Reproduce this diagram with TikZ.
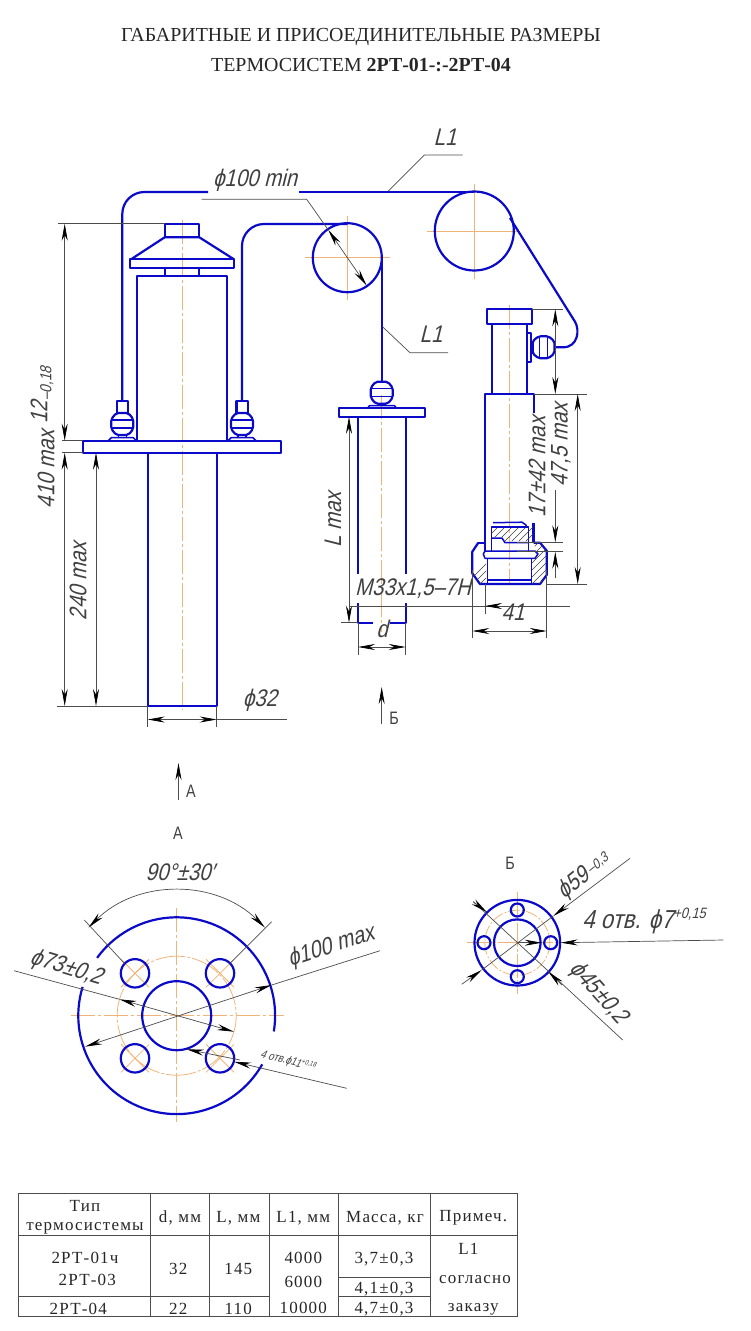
\documentclass[tikz,border=0pt]{standalone}
\usepackage{fontspec}
\usetikzlibrary{arrows.meta}
\setmainfont{Liberation Serif}
\newfontfamily\draftfont[FakeSlant=0.25,FakeStretch=0.85]{Liberation Sans}
\newfontfamily\viewfont[FakeStretch=0.8]{Liberation Sans}
\newfontfamily\tablefont[LetterSpace=7]{Liberation Serif}
\definecolor{partblue}{RGB}{10,10,200}
\definecolor{axisorange}{RGB}{240,180,120}
\tikzset{
  part/.style={draw=partblue,line width=2.2pt,line join=round},
  partfine/.style={draw=partblue,line width=1.5pt,line join=round},
  axisline/.style={draw=axisorange,line width=.8pt},
  axisdash/.style={axisline,dash pattern=on 24pt off 3pt on 3pt off 3pt},
  dimline/.style={draw=black!70,line width=.7pt,>={Stealth[length=17pt,width=6pt,color=black]}},
  hatchline/.style={draw=black!75,line width=.5pt},
  dimlabel/.style={font=\fontsize{24}{24}\selectfont\draftfont,inner sep=0pt,text=black!75},
  viewlabel/.style={font=\fontsize{18}{18}\selectfont\viewfont,inner sep=0pt,text=black!75},
  cell/.style={font=\fontsize{17}{17}\selectfont\tablefont,inner sep=0pt,text=black!85},
  ballfit/.pic={
    \draw[part,rounded corners=2pt] (-6,-11) -- (6,-11) -- (11,-5) -- (11,5) -- (6,11) -- (-6,11) -- (-11,5) -- (-11,-5) -- cycle;
    \draw[partfine] (-10.5,-4) -- (10.5,-4) (-10.5,4) -- (10.5,4);
  },
  stemfit/.pic={
    \draw[part] (-5.6,-10.7) -- (-5.6,-23.3) -- (5.6,-23.3) -- (5.6,-10.7);
    \pic {ballfit};
    \draw[partfine] (-4,11) -- (-4,14) (4,11) -- (4,14);
    \draw[partfine] (-14,16.7) -- (-11,13.7) -- (11,13.7) -- (14,16.7);
  }
}
\begin{document}
\begin{tikzpicture}[x=1pt,y=-1pt]
  \useasboundingbox (0,0) rectangle (750,1331);

  \node[font=\fontsize{19.9}{20}\selectfont,text=black!85] (title1) at (361,37) {ГАБАРИТНЫЕ И ПРИСОЕДИНИТЕЛЬНЫЕ РАЗМЕРЫ};
  \node[font=\fontsize{19.9}{20}\selectfont,text=black!85] (title2) at (361,65) {ТЕРМОСИСТЕМ \textbf{2РТ-01-:-2РТ-04}};

  % axes
  \draw[axisdash] (182,220) -- (182,710);
  \draw[axisdash] (381.7,395) -- (381.7,632);
  \draw[axisdash] (509.5,305) -- (509.5,585);
  \draw[axisline] (305,257.7) -- (390,257.7) (347.3,216) -- (347.3,300);
  \draw[axisline] (427.3,231) -- (520,231) (474.3,184) -- (474.3,279.3);

  % left unit
  \draw[part] (83.3,440.7) rectangle (280.7,452.7);
  \draw[part] (147.7,452.7) -- (147.7,706) -- (216.7,706) -- (216.7,452.7);
  \draw[part] (137.3,440.7) -- (137.3,276) -- (227.3,276) -- (227.3,440.7);
  \draw[part] (164.7,276) -- (164.7,268.3) (199.3,276) -- (199.3,268.3);
  \draw[part] (130,259.3) rectangle (234,268.3);
  \draw[part] (131,259.3) -- (164.7,237.3) -- (199.3,237.3) -- (234,259.3);
  \draw[part] (164.7,237.3) rectangle (199.3,223.7);
  \pic at (122.3,424) {stemfit};
  \pic at (242,424) {stemfit};

  % cables and drums
  \draw[part,rounded corners=22pt] (122.3,400.7) -- (122.3,192) -- (208,192);
  \draw[part] (299,192) -- (474.3,192);
  \draw[part,rounded corners=22pt] (242,400.7) -- (242,224) -- (347.3,224);
  \draw[part] (347.3,257.7) circle[radius=34.5];
  \draw[part] (474.3,231) circle[radius=39.5];
  \draw[part] (381.8,258) -- (381.8,381.7);
  \draw[part] (510,218) -- (575,321.7) .. controls (580,330) and (578,347.3) .. (563,347.3) -- (555,347.3);

  % middle unit
  \draw[part] (339,408.3) rectangle (425,416.7);
  \draw[part] (358,416.7) -- (358,574) (405.7,416.7) -- (405.7,574);
  \draw[part] (373,622.7) -- (358,622.7) -- (358,602.7) (390,622.7) -- (405.7,622.7) -- (405.7,602.7);
  \pic at (381.7,392.7) {ballfit};
  \draw[partfine] (367.3,408.3) -- (369.5,405.7) -- (394.5,405.7) -- (396.7,408.3);

  % right unit
  \draw[part] (487.3,309.3) rectangle (531.7,324.3);
  \draw[part] (491.7,324.3) -- (491.7,394) (527.3,324.3) -- (527.3,394);
  \draw[part] (527.3,333.3) rectangle (531,361.7);
  \draw[partfine] (531,341.7) rectangle (533,353.3);
  \pic[rotate=90] at (543.5,347.3) {ballfit};
  \draw[part] (485,552) -- (485,394) -- (534,394) -- (534,413.3);
  \draw[part] (533.5,523) -- (533.5,543);
  \draw[part] (478.3,542.7) -- (472.3,551.7) -- (472.3,573.3) -- (480,584) -- (540,584) -- (546.7,575) -- (546.7,550.7) -- (540,542.7) -- (533.5,542.7);
  \draw[part] (478.3,542.7) -- (485,542.7);
  \draw[partfine] (491.7,551) -- (491.7,527) -- (528.3,527) -- (528.3,551);
  \draw[partfine] (493,522.7) -- (522,522.2) -- (526,525) -- (526,527);
  \draw[partfine] (485,551) -- (535,551) -- (538,554) -- (535,558.3) -- (485,558.3) -- (483.3,554) -- cycle;
  \draw[partfine] (487.3,558.3) -- (487.3,584) (531.7,558.3) -- (531.7,584);
  \draw[partfine] (487.3,580) -- (531.7,580);
  \draw[partfine] (491.7,538) -- (502,538) -- (505,542.7) -- (528.3,542.7);

  \begin{scope}
    \clip (491.7,528) -- (528.3,528) -- (528.3,541) -- (505,541) -- (502,537) -- (491.7,537) -- cycle;
    \foreach \hx in {480,487,...,550} \draw[hatchline] (\hx,545) -- (\hx+20,525);
  \end{scope}
  \begin{scope}
    \clip (478.3,542.7) -- (472.3,551.7) -- (472.3,573.3) -- (480,584) -- (486,584) -- (486,558) -- (484,551) -- (485,522) -- (491,522) -- (491,542.7) -- cycle;
    \foreach \hx in {450,457,...,520} \draw[hatchline] (\hx,600) -- (\hx+80,520);
  \end{scope}
  \begin{scope}
    \clip (540,542.7) -- (546.7,550.7) -- (546.7,575) -- (540,584) -- (532,584) -- (532,558) -- (537,551) -- (533,542.7) -- (528.5,542.7) -- (528.5,522) -- (533,522) -- (533,542.7) -- cycle;
    \foreach \hx in {460,467,...,550} \draw[hatchline] (\hx,600) -- (\hx+80,520);
  \end{scope}

  % dimensions, left unit
  \draw[dimline] (58,223.7) -- (165,223.7);
  \draw[dimline] (62,440.7) -- (83.3,440.7) (62,452.7) -- (83.3,452.7);
  \draw[dimline] (57,706) -- (147.7,706);
  \draw[dimline,->] (64.7,300) -- (64.7,223.7);
  \draw[dimline,->] (64.7,300) -- (64.7,440.7);
  \draw[dimline,->] (64.7,500) -- (64.7,452.7);
  \draw[dimline,->] (64.7,500) -- (64.7,706);
  \draw[dimline,<->] (96,452.7) -- (96,706);
  \draw[dimline] (147.7,706) -- (147.7,727) (216.7,706) -- (216.7,727);
  \draw[dimline,<->] (147.7,719.5) -- (216.7,719.5);
  \draw[dimline] (216.7,719.5) -- (287,719.5);
  \node[dimlabel,rotate=90] (lbl410) at (46,469) {410 max};
  \node[dimlabel,rotate=90] (lbl12) at (42,395) {12\raisebox{-4pt}{\fontsize{16}{16}\selectfont –0,18}};
  \node[dimlabel,rotate=90] (lbl240) at (78,581) {240 max};
  \node[dimlabel] (lblphi32) at (260,700) {ϕ32};
  \draw[dimline] (201.7,199.3) -- (306.7,199.3) -- (328.3,230);
  \draw[dimline,<->] (328.3,230) -- (366.7,285.7);
  \node[dimlabel] (lblphi100) at (255,180) {ϕ100 min};
  \node[dimlabel] (lblcableA) at (445,137) {L1};
  \draw[dimline] (388.3,191) -- (424.3,155) -- (462.7,155);
  \node[dimlabel] (lblcableB) at (431,334) {L1};
  \draw[dimline] (382.5,326.7) -- (410,352.7) -- (448,352.7);

  % dimensions, middle unit
  \draw[dimline] (341,622.7) -- (358,622.7);
  \draw[dimline,<->] (349,416.7) -- (349,622.7);
  \node[dimlabel,rotate=90] (lblL) at (333,520) {L max};
  \draw[dimline] (358,622.7) -- (358,655) (405.7,622.7) -- (405.7,655);
  \draw[dimline,<->] (358,647) -- (405.7,647);
  \node[dimlabel] (lbld) at (382,629) {d};
  \node[dimlabel] (lblM33) at (413,589) {M33x1,5–7H};

  % dimensions, right unit
  \draw[dimline] (349,606) -- (570,606);
  \draw[dimline] (485,584) -- (485,614);
  \draw[dimline,->] (505,606) -- (485,606);
  \node[dimlabel] (lbl41) at (513,612) {41};
  \draw[dimline] (472.3,570) -- (472.3,638) (546.7,570) -- (546.7,638);
  \draw[dimline,<->] (472.3,631) -- (546.7,631);
  \draw[dimline] (531.7,309.3) -- (563,309.3);
  \draw[dimline] (534,394) -- (587,394) (546.7,584) -- (587,584);
  \draw[dimline] (517,542.3) -- (563,542.3) (517,551.7) -- (563,551.7);
  \draw[dimline,<->] (555.3,309.3) -- (555.3,394);
  \draw[dimline,->] (555.3,490) -- (555.3,542.3);
  \draw[dimline,->] (555.3,578) -- (555.3,551.7);
  \draw[dimline,<->] (577.7,394) -- (577.7,584);
  \node[dimlabel,rotate=90] (lbl17) at (537,467) {17±42 max};
  \node[dimlabel,rotate=90] (lbl47) at (561,445) {47,5 max};

  % view arrows
  \draw[dimline,->] (178.5,800) -- (178.5,763);
  \node[viewlabel] (lblarrA) at (191,791) {А};
  \draw[dimline,->] (381.7,724) -- (381.7,687);
  \node[viewlabel] (lblarrB) at (394,718) {Б};

  % view A
  \node[viewlabel] (lblviewA) at (178,833) {А};
  \draw[axisdash] (70.7,1015.7) -- (284,1015.7);
  \draw[axisdash] (176.7,908) -- (176.7,1121.7);
  \draw[axisline,dash pattern=on 30pt off 2pt on 3pt off 2pt] (176.7,1015.7) circle[radius=59.5];
  \draw[part] (176.7,1015.7) ++(9.2:98.4) arc[start angle=9.2,end angle=-144,radius=98.4];
  \draw[part] (176.7,1015.7) ++(-163:98.4) arc[start angle=-163,end angle=-330.4,radius=98.4];
  \draw[part] (176.7,1015.7) circle[radius=34.5];
  \foreach \hx/\hy in {135/973.3,220/973.3,135/1058.3,220/1058.3}{
    \draw[axisline] (\hx-14,\hy-14) -- (\hx+14,\hy+14) (\hx-14,\hy+14) -- (\hx+14,\hy-14);
    \draw[part] (\hx,\hy) circle[radius=14.2];
  }
  \draw[dimline,<->] (176.7,1015.7) ++(-135:124.7) arc[start angle=-135,end angle=-45,radius=124.7];
  \draw[dimline] (84.3,920) -- (125,964) (271.7,921.7) -- (230,963.3);
  \node[dimlabel] (lbl90) at (180,872) {90°±30′};
  \draw[dimline] (380,950.7) -- (271.7,985);
  \draw[dimline,<->] (271.7,985) -- (85,1046.7);
  \node[dimlabel,rotate=18] (lblphi100max) at (331,947) {ϕ100 max};
  \draw[dimline] (14,970.7) -- (119.5,999.3);
  \draw[dimline,<->] (119.5,999.3) -- (234,1031.7);
  \node[dimlabel,rotate=-17] (lblphi73) at (66,968) {ϕ73±0,2};
  \draw[dimline,->] (240,1060) -- (186.7,1049.3);
  \draw[dimline,->] (346.7,1088.3) -- (234,1061.7);
  \node[dimlabel,rotate=-14,font=\fontsize{11.5}{11}\selectfont\draftfont] (lblholesA) at (288,1061) {4 отв.ϕ11\raisebox{4pt}{\fontsize{7}{7}\selectfont +0,18}};

  % view B
  \node[viewlabel] (lblviewB) at (510,863) {Б};
  \draw[axisline,dash pattern=on 24pt off 2pt on 3pt off 2pt] (467.3,942.7) -- (568.3,942.7);
  \draw[axisline,dash pattern=on 24pt off 2pt on 3pt off 2pt] (517.3,891.7) -- (517.3,994);
  \draw[axisline,dash pattern=on 12pt off 2pt on 2pt off 2pt] (517.3,942.7) circle[radius=32.5];
  \draw[part] (517.3,942.7) circle[radius=42.8];
  \draw[part] (517.3,942.7) circle[radius=23.3];
  \foreach \hx/\hy in {517.3/910,484/942.7,550.7/942.7,517.3/976.7}
    \draw[part] (\hx,\hy) circle[radius=6.5];
  \draw[dimline,->] (630,858.3) -- (553.3,916);
  \draw[dimline,->] (461.7,984.3) -- (481.7,970);
  \draw[dimline] (481.7,970) -- (553.3,916);
  \node[dimlabel,rotate=39] (lblphi59) at (584,876) {ϕ59\raisebox{3pt}{\fontsize{14}{14}\selectfont\,–0,3}};
  \draw[dimline,->] (723.3,940) -- (560.7,942.7);
  \draw[dimline,->] (517.3,942.7) -- (541.7,942.7);
  \node[dimlabel,font=\fontsize{26}{26}\selectfont\draftfont] (lblholesB) at (644,921) {4 отв. ϕ7\raisebox{10pt}{\fontsize{15}{15}\selectfont +0,15}};
  \draw[dimline] (473.3,901.7) -- (622.7,1040);
  \draw[dimline,->] (473.3,901.7) -- (487,912.3);
  \draw[dimline,->] (562,985) -- (548.3,971.7);
  \node[dimlabel,rotate=-48] (lblphi45) at (598,993) {ϕ45±0,2};

  % table
  \draw[black!70,line width=.8pt] (18.3,1193.3) rectangle (517.7,1316);
  \draw[black!70,line width=.8pt] (18.3,1235) -- (517.7,1235)
    (18.3,1296.7) -- (269.3,1296.7) (338.7,1296.7) -- (430.7,1296.7) (338.7,1277.7) -- (430.7,1277.7)
    (150.3,1193.3) -- (150.3,1316) (209,1193.3) -- (209,1316) (269.3,1193.3) -- (269.3,1316)
    (338.7,1193.3) -- (338.7,1316) (430.7,1193.3) -- (430.7,1316);
  \node[cell] (c11) at (85,1205.5) {Тип};
  \node[cell] (c12) at (85,1228.5) {термосистемы};
  \node[cell] (c13) at (180,1218) {d, мм};
  \node[cell] (c14) at (238.3,1218) {L, мм};
  \node[cell] (c15) at (303.3,1218) {L1, мм};
  \node[cell] (c16) at (385,1218) {Масса, кг};
  \node[cell] (c17) at (473.3,1218) {Примеч.};
  \node[cell] (c21) at (85,1258) {2РТ-01ч};
  \node[cell] (c22) at (87.3,1279.5) {2РТ-03};
  \node[cell] (c23) at (178.3,1269) {32};
  \node[cell] (c24) at (238.3,1269) {145};
  \node[cell] (c25) at (303.3,1258) {4000};
  \node[cell] (c26) at (303.3,1281.5) {6000};
  \node[cell] (c27) at (384,1259) {3,7±0,3};
  \node[cell] (c28) at (384,1289) {4,1±0,3};
  \node[cell] (c29) at (468.3,1249) {L1};
  \node[cell] (c2a) at (475,1280) {согласно};
  \node[cell] (c31) at (78.3,1309) {2РТ-04};
  \node[cell] (c32) at (178.3,1309) {22};
  \node[cell] (c33) at (238.3,1309) {110};
  \node[cell] (c34) at (303.3,1307.5) {10000};
  \node[cell] (c35) at (384,1309) {4,7±0,3};
  \node[cell] (c36) at (473.3,1309.5) {заказу};
\end{tikzpicture}
\end{document}
